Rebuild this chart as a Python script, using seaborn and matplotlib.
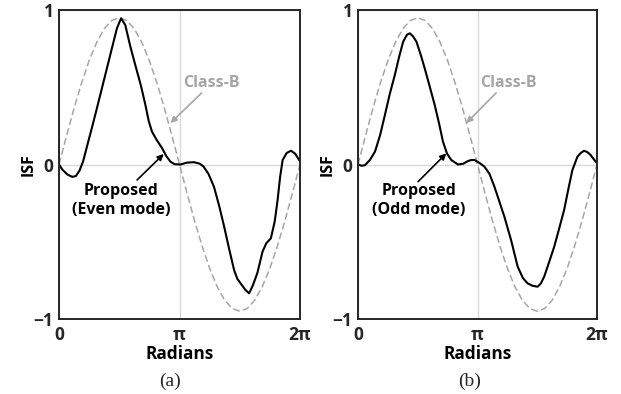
import numpy as np
import pandas as pd
import matplotlib
matplotlib.use("Agg")
import matplotlib.pyplot as plt
import seaborn as sns

# Phase positions in units of pi and the ISF values at them
classb_x = [i / 16 for i in range(33)]
classb_y = [0.000, 0.185, 0.364, 0.528, 0.672, 0.790, 0.878, 0.932, 0.950,
            0.932, 0.878, 0.790, 0.672, 0.528, 0.364, 0.185, 0.000,
            -0.185, -0.364, -0.528, -0.672, -0.790, -0.878, -0.932, -0.950,
            -0.932, -0.878, -0.790, -0.672, -0.528, -0.364, -0.185, 0.000]

even_x = [0.000, 0.030, 0.070, 0.110, 0.140, 0.170, 0.200, 0.240, 0.272, 0.310,
          0.356, 0.400, 0.439, 0.481, 0.515, 0.550, 0.590, 0.633, 0.680, 0.717,
          0.745, 0.772, 0.810, 0.856, 0.890, 0.925, 0.960, 1.008, 1.060, 1.120,
          1.170, 1.200, 1.240, 1.286, 1.330, 1.370, 1.410, 1.453, 1.480, 1.508,
          1.545, 1.578, 1.610, 1.647, 1.689, 1.720, 1.758, 1.790, 1.814, 1.835,
          1.856, 1.890, 1.925, 1.960, 2.000]
even_y = [0.000, -0.035, -0.065, -0.080, -0.075, -0.040, 0.020, 0.140, 0.234, 0.350,
          0.493, 0.630, 0.752, 0.882, 0.946, 0.903, 0.770, 0.644, 0.510, 0.385,
          0.280, 0.212, 0.160, 0.105, 0.055, 0.018, 0.002, 0.000, 0.012, 0.015,
          0.005, -0.014, -0.060, -0.144, -0.270, -0.400, -0.540, -0.683, -0.740, -0.770,
          -0.810, -0.834, -0.780, -0.700, -0.564, -0.510, -0.478, -0.370, -0.230, -0.080,
          0.029, 0.075, 0.089, 0.070, 0.020]

odd_x = [0.000, 0.030, 0.058, 0.100, 0.142, 0.185, 0.225, 0.267, 0.308, 0.345,
         0.378, 0.410, 0.433, 0.460, 0.489, 0.525, 0.558, 0.600, 0.642, 0.680,
         0.711, 0.745, 0.781, 0.836, 0.880, 0.920, 0.947, 0.975, 1.017, 1.058,
         1.100, 1.142, 1.183, 1.225, 1.281, 1.336, 1.380, 1.419, 1.460, 1.503,
         1.530, 1.558, 1.600, 1.642, 1.685, 1.725, 1.760, 1.794, 1.836, 1.865,
         1.892, 1.920, 1.947, 1.989, 2.000]
odd_y = [0.000, -0.008, -0.005, 0.030, 0.083, 0.190, 0.320, 0.460, 0.579, 0.700,
         0.795, 0.840, 0.849, 0.830, 0.795, 0.710, 0.623, 0.505, 0.385, 0.260,
         0.148, 0.070, 0.029, 0.000, 0.005, 0.022, 0.029, 0.029, 0.010, -0.014,
         -0.060, -0.144, -0.240, -0.338, -0.489, -0.661, -0.735, -0.769, -0.785, -0.791,
         -0.770, -0.726, -0.630, -0.532, -0.410, -0.294, -0.160, -0.036, 0.050, 0.075,
         0.089, 0.080, 0.061, 0.018, 0.010]

x_ticks = [0, 1, 2]
x_tick_labels = ["0", "π", "2π"]
y_ticks = [-1, 0, 1]
y_tick_labels = ["−1", "0", "1"]

sns.set_style("white")
plt.rcParams["font.family"] = ["Open Sans", "DejaVu Sans"]
plt.rcParams["font.weight"] = "bold"

fig = plt.figure(figsize=(6.21, 3.94), dpi=100)
W, H = 621, 394
ax_a = fig.add_axes([59 / W, 1 - 319 / H, 241 / W, 309 / H])
ax_b = fig.add_axes([358 / W, 1 - 319 / H, 239 / W, 309 / H])

classb_df = pd.DataFrame({"x": classb_x, "y": classb_y})
panels = [
    (ax_a, even_x, even_y, "Proposed\n(Even mode)", "(a)",
     (1.264, 0.529), ((1.183, 0.463), (0.925, 0.268)),
     (0.514, -0.232), ((0.648, -0.100), (0.869, 0.068))),
    (ax_b, odd_x, odd_y, "Proposed\n(Odd mode)", "(b)",
     (1.258, 0.529), ((1.156, 0.463), (0.906, 0.268)),
     (0.508, -0.232), ((0.503, -0.111), (0.739, 0.072))),
]

for ax, px, py, ptext, tag, cb_pos, cb_arrow, p_pos, p_arrow in panels:
    prop_df = pd.DataFrame({"x": px, "y": py})
    sns.lineplot(data=classb_df, x="x", y="y", ax=ax, color="#a6a6a6",
                 lw=1.1, linestyle=(0, (4.5, 2.2)), sort=False, estimator=None)
    sns.lineplot(data=prop_df, x="x", y="y", ax=ax, color="black",
                 lw=1.5, sort=False, estimator=None)
    ax.set_xlim(0, 2)
    ax.set_ylim(-1, 1)
    ax.set_xticks(x_ticks)
    ax.set_xticklabels(x_tick_labels)
    ax.set_yticks(y_ticks)
    ax.set_yticklabels(y_tick_labels)
    ax.grid(True, color="#d9d9d9", lw=1.0)
    ax.set_axisbelow(True)
    ax.tick_params(axis="both", direction="in", length=4, width=1,
                   color="#262626", labelsize=12.5, labelcolor="#262626")
    ax.tick_params(axis="x", pad=5)
    ax.tick_params(axis="y", pad=4)
    for t in ax.get_xticklabels() + ax.get_yticklabels():
        t.set_fontweight("bold")
    for s in ax.spines.values():
        s.set_color("#262626")
        s.set_linewidth(1.4)
    ax.set_xlabel("Radians", fontsize=12.4, fontweight="bold", labelpad=1,
                  color="black")
    ax.set_ylabel("ISF", fontsize=11.5, fontweight="bold", labelpad=-2,
                  color="black")

    ax.text(*cb_pos, "Class-B", ha="center", va="center", fontsize=11.5,
            fontweight="bold", color="#a6a6a6")
    ax.annotate("", xy=cb_arrow[1], xytext=cb_arrow[0],
                arrowprops=dict(arrowstyle="-|>", color="#a6a6a6", lw=1.2,
                                mutation_scale=9, shrinkA=0, shrinkB=0))
    ax.text(*p_pos, ptext, ha="center", va="center", fontsize=11.5,
            fontweight="bold", color="black", linespacing=1.3)
    ax.annotate("", xy=p_arrow[1], xytext=p_arrow[0],
                arrowprops=dict(arrowstyle="-|>", color="black", lw=1.2,
                                mutation_scale=9, shrinkA=0, shrinkB=0))

fig.text(170 / W, 1 - 381 / H, "(a)", ha="center", va="center",
         family="Liberation Serif", fontweight="normal", fontsize=14)
fig.text(470 / W, 1 - 381 / H, "(b)", ha="center", va="center",
         family="Liberation Serif", fontweight="normal", fontsize=14)

fig.savefig("out.png", dpi=100)
